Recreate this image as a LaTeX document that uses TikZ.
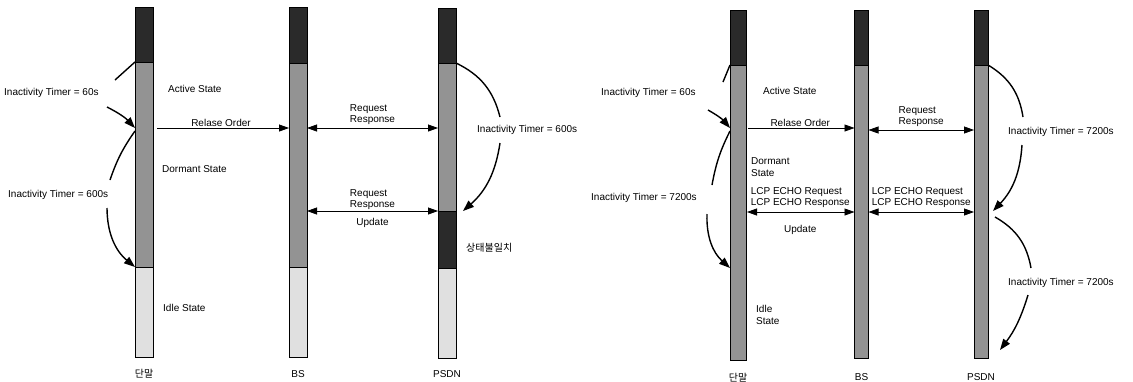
\documentclass[tikz,border=0pt]{standalone}
\usepackage{fontspec}
\setmainfont{Liberation Sans}
\newfontfamily\krfont{Noto Sans CJK KR}
\usetikzlibrary{arrows.meta, positioning}
\definecolor{topgray}{HTML}{2A2A2A}
\definecolor{midgray}{HTML}{939393}
\definecolor{idlegray}{HTML}{E0E0E0}
\tikzset{every node/.style={font=\fontsize{10}{11.5}\selectfont}}

\begin{document}
\begin{tikzpicture}[
  x=1pt, y=-1pt,
  node distance=0pt,
  bar/.style={draw, line width=0.5pt, inner sep=0pt, outer sep=0pt, minimum width=18pt},
  txt/.style={inner sep=1pt, align=left},
  msg/.style={line width=0.8pt, -{Triangle[length=10pt, width=7pt]}},
  both/.style={msg, {Triangle[length=10pt, width=7pt]}-{Triangle[length=10pt, width=7pt]}},
  timer/.style={line width=1.4pt},
  timerarrow/.style={timer, -{Triangle[length=11pt, width=8pt]}}
]
\useasboundingbox (0,0) rectangle (1133,381);

% left: 단말 / BS / PSDN
\node[bar, fill=topgray, minimum height=55pt, anchor=north] (ueA) at (144,7) {};
\node[bar, fill=midgray, minimum height=205pt, below=of ueA] (ueB) {};
\node[bar, fill=idlegray, minimum height=90pt, below=of ueB] (ueC) {};
\node[below=9pt of ueC] (ueName) {\krfont 단말};

\node[bar, fill=topgray, minimum height=56pt, anchor=north] (bsA) at (298,7) {};
\node[bar, fill=midgray, minimum height=204pt, below=of bsA] (bsB) {};
\node[bar, fill=idlegray, minimum height=90pt, below=of bsB] (bsC) {};
\node[below=10pt of bsC] (bsName) {BS};

\node[bar, fill=topgray, minimum height=55pt, anchor=north] (psA) at (447,8) {};
\node[bar, fill=midgray, minimum height=148pt, below=of psA] (psB) {};
\node[bar, fill=topgray, minimum height=57pt, below=of psB] (psC) {};
\node[bar, fill=idlegray, minimum height=90pt, below=of psC] (psD) {};
\node[below=9pt of psD] (psName) {PSDN};

\node[txt, anchor=west] (active) at (167,89) {Active State};
\node[txt, anchor=west] (dormant) at (161,169) {Dormant State};
\node[txt, anchor=west] (idle) at (162,308) {Idle State};
\node[txt, anchor=west] (mismatch) at (465,248) {\krfont 상태불일치};

\draw[msg, shorten <=4pt] (ueB.east |- 0,128) -- (bsB.west |- 0,128)
  node[midway, above, txt] {Relase Order};
\draw[both] (bsB.east |- 0,128) -- (psB.west |- 0,128)
  node[midway, above=2pt, txt] {Request\\Response};
\draw[both] (bsB.east |- 0,211) -- (psB.west |- 0,211)
  node[midway, above, txt] {Request\\Response}
  node[midway, below=6pt, txt] {Update};

\node[txt, anchor=west] (tmA) at (3,93) {Inactivity Timer = 60s};
\node[txt, anchor=west] (tmB) at (7,195) {Inactivity Timer = 600s};
\node[txt, anchor=west] (tmC) at (476,130) {Inactivity Timer = 600s};
\coordinate (tmAup) at (115,80);
\coordinate (tmAdn) at (107,107);
\coordinate (tmBup) at (110,180);
\coordinate (tmBdn) at (107,208);
\coordinate (tmCup) at (500,117);
\coordinate (tmCdn) at (500,143);

\draw[timer] (tmAup) -- (ueA.south west);
\draw[timerarrow] (tmAdn) to[bend left=10] (ueB.west |- 0,128);
\draw[timer] (ueB.west |- 0,131) to[bend right=8] (tmBup);
\draw[timerarrow] (tmBdn) to[bend right=25] (ueC.north west);
\draw[timer] (psA.south east) to[bend left=25] (tmCup);
\draw[timerarrow] (tmCdn) to[bend left=20] ([xshift=7pt]psC.north east);

% right: 단말 / BS / PSDN
\node[bar, fill=topgray, minimum width=16pt, minimum height=55pt, anchor=north] (ueD) at (738,10) {};
\node[bar, fill=midgray, minimum width=16pt, minimum height=295pt, below=of ueD] (ueE) {};
\node[below=10pt of ueE] (ueName2) {\krfont 단말};

\node[bar, fill=topgray, minimum width=14pt, minimum height=55pt, anchor=north] (bsD) at (861.5,10) {};
\node[bar, fill=midgray, minimum width=14pt, minimum height=293pt, below=of bsD] (bsE) {};
\node[below=12pt of bsE] (bsName2) {BS};

\node[bar, fill=topgray, minimum width=14pt, minimum height=55pt, anchor=north] (psE) at (981,10) {};
\node[bar, fill=midgray, minimum width=14pt, minimum height=293pt, below=of psE] (psF) {};
\node[below=12pt of psF] (psName2) {PSDN};

\node[txt, anchor=west] (active2) at (762,91) {Active State};
\node[txt, anchor=west] (dormant2) at (750,167) {Dormant\\State};
\node[txt, anchor=west] (idle2) at (755,315) {Idle\\State};

\draw[msg, shorten <=2pt] (ueE.east |- 0,128) -- (bsE.west |- 0,128)
  node[midway, above, txt] {Relase Order};
\draw[both] (bsE.east |- 0,130) -- (psF.west |- 0,130)
  node[midway, above=2pt, txt] {Request\\Response};
\draw[both, shorten <=1pt] (ueE.east |- 0,212) -- (bsE.west |- 0,212)
  node[midway, above=3pt, txt] {LCP ECHO Request\\LCP ECHO Response}
  node[midway, below=12pt, txt] {Update};
\draw[both] (bsE.east |- 0,212) -- (psF.west |- 0,212)
  node[midway, above=3pt, txt] {LCP ECHO Request\\LCP ECHO Response};

\node[txt, anchor=west] (tmD) at (600,93) {Inactivity Timer = 60s};
\node[txt, anchor=west] (tmE) at (590,198) {Inactivity Timer = 7200s};
\node[txt, anchor=west] (tmF) at (1007,132) {Inactivity Timer = 7200s};
\node[txt, anchor=west] (tmG) at (1007,283) {Inactivity Timer = 7200s};
\coordinate (tmDup) at (723,82);
\coordinate (tmDdn) at (708,110);
\coordinate (tmEup) at (712,185);
\coordinate (tmEdn) at (707,214);
\coordinate (tmFup) at (1023,117);
\coordinate (tmFdn) at (1022,145);
\coordinate (tmGup) at (1031,268);
\coordinate (tmGdn) at (1028,295);

\draw[timer] (tmDup) -- (ueD.south west);
\draw[timerarrow] (tmDdn) to[bend left=10] (ueE.west |- 0,128);
\draw[timer] (ueE.west |- 0,131) to[bend right=8] (tmEup);
\draw[timerarrow] (tmEdn) to[bend right=25] (ueE.west |- 0,268);
\draw[timer] (psE.south east) to[bend left=25] (tmFup);
\draw[timerarrow] (tmFdn) to[bend left=20] ([xshift=5pt]psF.east |- 0,211);
\draw[timer] ([xshift=7pt]psF.east |- 0,217) to[bend left=25] (tmGup);
\draw[timerarrow] (tmGdn) to[bend left=10] ([xshift=12pt]psF.east |- 0,350);
\end{tikzpicture}
\end{document}
